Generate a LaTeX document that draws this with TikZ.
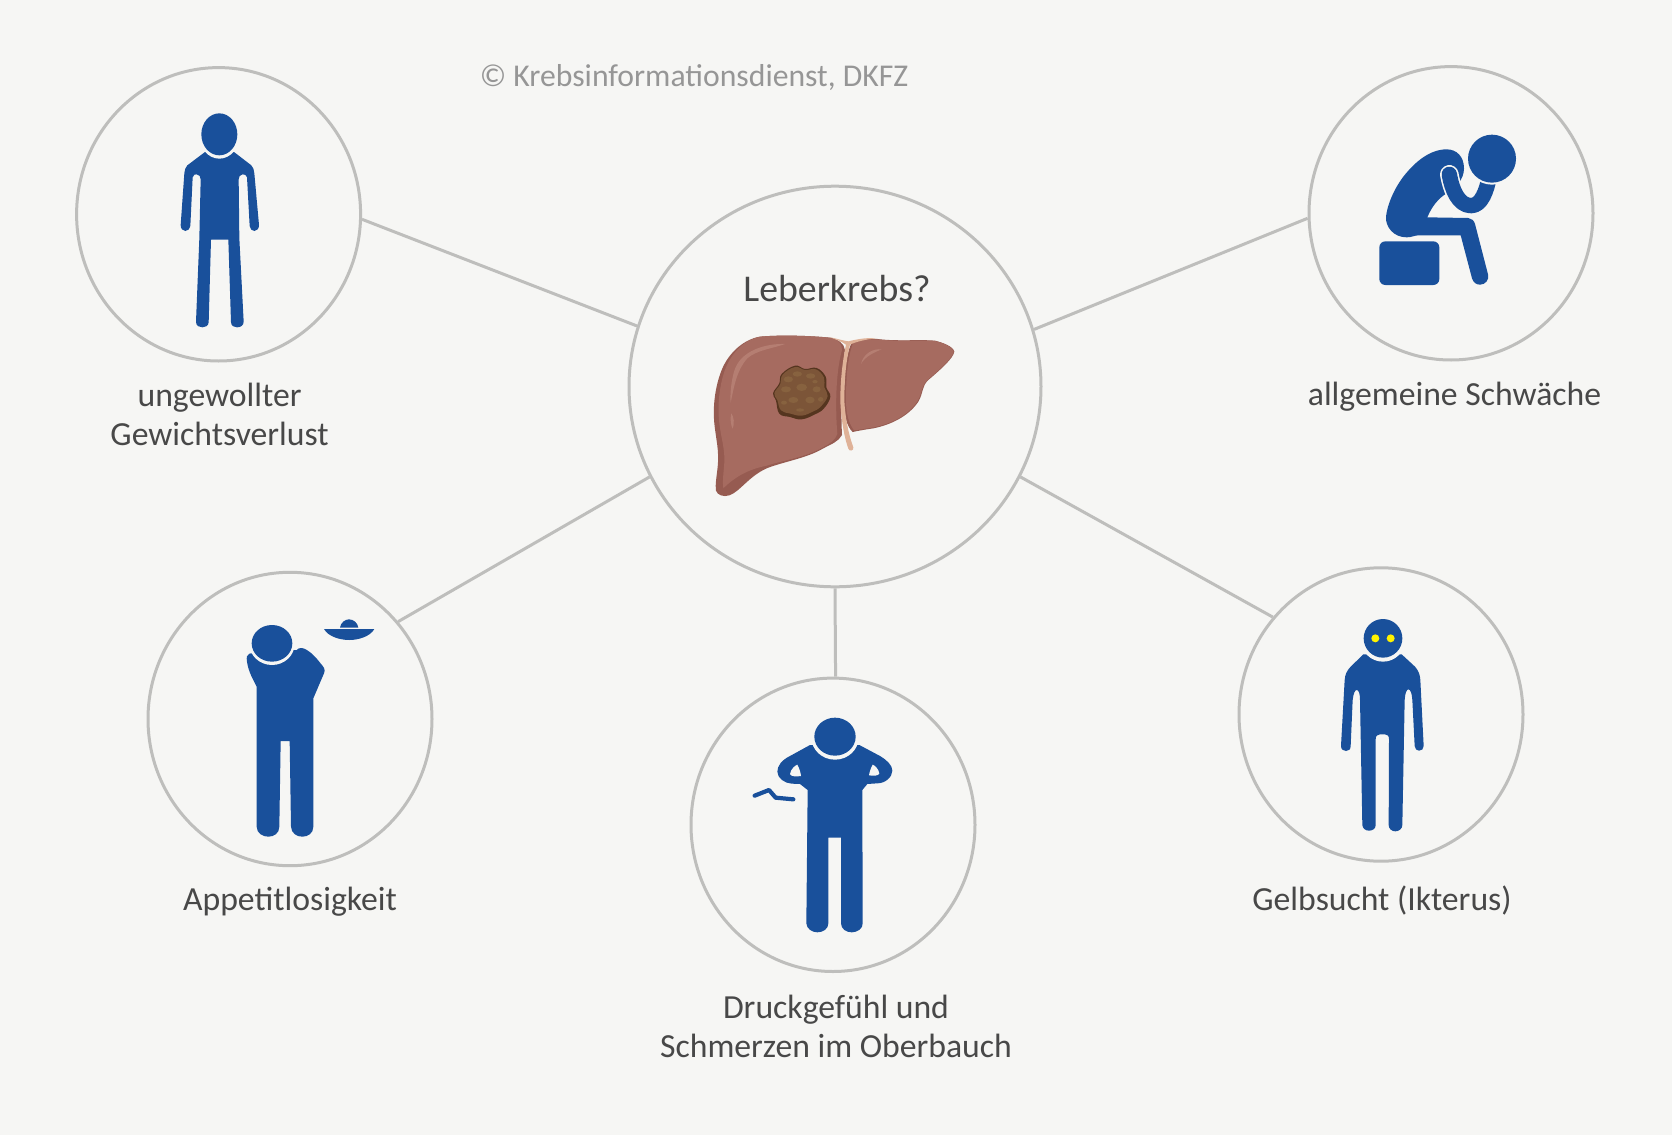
\documentclass[tikz,border=0pt]{standalone}
\usepackage{fontspec}
\usetikzlibrary{shapes.geometric}
\setmainfont{Carlito}
\definecolor{bgc}{HTML}{F6F6F4}
\definecolor{ringc}{HTML}{BEBEBC}
\definecolor{figc}{HTML}{19509B}
\definecolor{txtc}{HTML}{484848}
\definecolor{copyc}{HTML}{969696}
\definecolor{liverc}{HTML}{A66B60}
\definecolor{liverd}{HTML}{965B51}
\definecolor{liverl}{HTML}{B57E72}
\definecolor{tanc}{HTML}{DFB298}
\definecolor{tumc}{HTML}{7C5538}
\definecolor{tumd}{HTML}{55351F}
\definecolor{tuml}{HTML}{87623F}
\tikzset{
  ringnode/.style={ellipse,draw=ringc,line width=1.5pt,inner sep=0pt,minimum width=142pt,minimum height=146.7pt},
  mainnode/.style={ellipse,draw=ringc,line width=1.5pt,inner sep=0pt,minimum width=206pt,minimum height=200.3pt},
  link/.style={draw=ringc,line width=1.5pt},
  lab/.style={text=txtc,align=center,inner sep=0pt,font=\fontsize{16.85}{19.2}\selectfont},
  zoomed/.style n args={2}{shift={(#1,#2)},x=0.16667pt,y=-0.16667pt},
  fig/.style={fill=figc},
  gapc/.style={fill=bgc}
}
\begin{document}
\begin{tikzpicture}[x=0.5pt,y=-0.5pt]
\fill[bgc] (0,0) rectangle (1672,1135);
\useasboundingbox (0,0) rectangle (1672,1135);
% circles
\node[mainnode] (main) at (835,386.5) {};
\node[ringnode] (weight) at (218.6,214.3) {};
\node[ringnode] (weak) at (1451,213.3) {};
\node[ringnode] (appetite) at (290,719) {};
\node[ringnode] (pain) at (833,824.8) {};
\node[ringnode] (jaundice) at (1381,714.5) {};
% connectors
\draw[link] (weight.-2.6) -- (main.163);
\draw[link] (weak.182) -- (main.16.2);
\draw[link] (appetite.42.3) -- (main.206.2);
\draw[link] (jaundice.138.6) -- (main.-26.2);
\draw[link] (pain.89.3) -- (main.-90);
% texts
\node[text=copyc,inner sep=0pt,font=\fontsize{15.85}{18}\selectfont] (copy) at (694,77.5) {© Krebsinformationsdienst, DKFZ};
\node[text=txtc,inner sep=0pt,font=\fontsize{18.9}{21}\selectfont] (title) at (837,288.5) {Leberkrebs?};
\node[lab] (t1) at (219.6,414.5) {ungewollter\\Gewichtsverlust};
\node[lab] (t2) at (1454.5,397) {allgemeine Schwäche};
\node[lab] (t3) at (290,902) {Appetitlosigkeit};
\node[lab] (t4) at (1382,901) {Gelbsucht (Ikterus)};
\node[lab] (t5) at (836,1026.5) {Druckgefühl und\\Schmerzen im Oberbauch};
% liver
\begin{scope}[zoomed={660}{300}]
  % right lobe
  \fill[liverd] (575,128) .. controls (600,118) and (640,114) .. (660,118) .. controls (720,124) and (780,118) .. (825,122)
     .. controls (850,128) and (880,140) .. (883,155) .. controls (880,175) and (840,210) .. (805,240)
     .. controls (785,258) and (790,280) .. (775,305) .. controls (745,350) and (690,375) .. (640,385)
     .. controls (620,388) and (595,392) .. (578,396) .. controls (560,380) and (550,340) .. (552,300)
     .. controls (552,240) and (555,170) .. (575,128) -- cycle;
  \fill[liverc] (580,128) .. controls (600,119) and (640,116) .. (660,119) .. controls (720,125) and (780,120) .. (825,123)
     .. controls (850,129) and (878,141) .. (881,155) .. controls (878,173) and (839,209) .. (803,239)
     .. controls (783,257) and (787,280) .. (772,304) .. controls (743,348) and (690,372) .. (640,382)
     .. controls (620,385) and (600,389) .. (582,391) .. controls (566,370) and (558,340) .. (558,300)
     .. controls (558,240) and (562,170) .. (580,128) -- cycle;
  % left lobe
  \fill[liverd] (510,113) .. controls (440,106) and (350,105) .. (300,110) .. controls (250,118) and (205,160) .. (185,210)
     .. controls (165,260) and (158,320) .. (163,370) .. controls (168,420) and (178,450) .. (173,500)
     .. controls (170,530) and (165,555) .. (168,572) .. controls (172,585) and (190,592) .. (208,586)
     .. controls (240,575) and (265,530) .. (320,505) .. controls (370,485) and (440,475) .. (490,445)
     .. controls (515,432) and (535,425) .. (546,405) .. controls (542,330) and (545,220) .. (555,150)
     .. controls (552,130) and (535,118) .. (510,113) -- cycle;
  \fill[liverc] (510,113) .. controls (440,106) and (350,105) .. (300,110) .. controls (250,120) and (212,162) .. (194,212)
     .. controls (177,262) and (172,320) .. (178,370) .. controls (184,420) and (197,450) .. (192,500)
     .. controls (190,525) and (187,545) .. (190,565) .. controls (225,530) and (265,508) .. (320,497)
     .. controls (370,481) and (440,471) .. (490,441) .. controls (510,431) and (526,420) .. (532,402)
     .. controls (526,330) and (526,220) .. (546,150) .. controls (546,130) and (535,118) .. (510,113) -- cycle;
  % highlights
  \fill[liverl] (375,132) .. controls (320,130) and (240,150) .. (222,215) .. controls (212,250) and (210,290) .. (212,308)
     .. controls (222,260) and (230,210) .. (262,175) .. controls (290,150) and (340,145) .. (375,132) -- cycle;
  \fill[liverl] (214,340) .. controls (210,355) and (212,375) .. (218,386) .. controls (224,370) and (222,352) .. (214,340) -- cycle;
  \fill[liverl] (665,148) .. controls (640,145) and (610,160) .. (603,192) .. controls (615,170) and (640,158) .. (665,148) -- cycle;
  % ligament
  \fill[tanc] (508,111) .. controls (530,116) and (550,122) .. (565,124) .. controls (590,118) and (620,112) .. (648,115)
     .. controls (620,118) and (590,124) .. (570,134) .. controls (558,180) and (553,240) .. (553,300)
     .. controls (555,350) and (566,405) .. (580,442) .. controls (582,452) and (568,456) .. (565,446)
     .. controls (552,410) and (542,350) .. (541,300) .. controls (541,240) and (548,180) .. (558,134)
     .. controls (545,124) and (525,118) .. (508,111) -- cycle;
  % tumour
  \fill[tumd] plot[smooth cycle,tension=0.7] coordinates {(405,197) (435,207) (470,204) (497,230) (499,262) (511,290) (492,325) (465,343) (425,358) (390,351) (358,341) (348,302) (339,280) (358,250) (365,222)};
  \fill[tumc] plot[smooth cycle,tension=0.7] coordinates {(405,201) (435,210) (468,208) (492,233) (493,262) (503,288) (482,320) (458,335) (425,347) (392,341) (363,331) (352,300) (343,280) (361,252) (368,224)};
  \foreach \x/\y/\a/\b in {385/238/14/9, 412/222/14/8, 452/228/14/8, 378/268/15/9, 425/262/16/11, 470/268/12/9, 400/300/15/9, 450/300/14/10, 372/308/9/6, 482/298/8/7, 420/330/12/5, 465/245/8/5}{
    \fill[tuml] (\x,\y) ellipse [x radius=\a,y radius=\b];
  }
\end{scope}
% figure: weight loss
\begin{scope}[zoomed={150}{90}]
  \fill[fig] (165,186) -- (112,226) .. controls (106,232) and (104,240) .. (103,250) -- (92,405)
    .. controls (92,416) and (98,423) .. (106,423) .. controls (114,423) and (120,416) .. (121,408)
    -- (128,262) .. controls (130,254) and (136,252) .. (140,253) .. controls (148,254) and (152,260) .. (152,268)
    -- (148,445) -- (138,695) .. controls (138,708) and (148,712) .. (157,712) .. controls (166,712) and (175,708) .. (176,697)
    -- (183,449) -- (235,449) -- (243,697) .. controls (244,708) and (252,712) .. (261,712) .. controls (272,712) and (281,706) .. (281,695)
    -- (268,445) -- (266,268) .. controls (266,260) and (270,254) .. (278,253) .. controls (284,252) and (290,256) .. (291,262)
    -- (299,408) .. controls (300,416) and (305,423) .. (313,423) .. controls (321,423) and (327,416) .. (327,405)
    -- (313,250) .. controls (312,240) and (310,232) .. (304,226) -- (252,186) -- cycle;
  \fill[gapc] (208,134) ellipse [x radius=61,y radius=72];
  \fill[fig] (208,133) ellipse [x radius=54,y radius=63];
\end{scope}
% figure: weakness
\begin{scope}[zoomed={1340}{110}]
  \fill[figc,rounded corners=3pt] (118,394) rectangle (298,525);
  \fill[fig] (320,118) .. controls (270,118) and (225,155) .. (190,200) .. controls (160,240) and (142,285) .. (138,320)
    .. controls (136,350) and (160,382) .. (200,382) .. controls (215,382) and (225,376) .. (235,376) -- (362,376)
    -- (396,505) .. controls (400,518) and (410,524) .. (420,524) .. controls (436,524) and (448,510) .. (444,493)
    -- (405,342) .. controls (402,332) and (395,325) .. (385,324) -- (262,322)
    .. controls (275,290) and (295,265) .. (320,250) .. controls (345,235) and (372,210) .. (372,175)
    .. controls (372,140) and (350,118) .. (320,118) -- cycle;
  \draw[bgc,line width=9.3pt,line cap=round] (328,193) .. controls (336,240) and (352,268) .. (372,282);
  \draw[figc,line width=7.7pt,line cap=round,line join=round] (328,193) .. controls (336,240) and (355,285) .. (392,287) .. controls (425,288) and (440,240) .. (448,200);
  \fill[gapc] (456,146) circle [radius=78];
  \fill[fig] (456,146) circle [radius=72];
\end{scope}
% figure: appetite
\begin{scope}[zoomed={220}{600}]
  \fill[fig] (88,161) .. controls (80,164) and (79,172) .. (81,185) .. controls (85,215) and (100,240) .. (110,260)
    -- (110,680) .. controls (110,700) and (128,710) .. (145,710) .. controls (162,710) and (178,700) .. (178,680)
    -- (182,423) -- (209,423) -- (213,680) .. controls (214,700) and (230,710) .. (247,710) .. controls (264,710) and (280,700) .. (280,680)
    -- (280,295) -- (312,220) .. controls (318,208) and (310,200) .. (300,188) .. controls (285,168) and (262,146) .. (245,144)
    .. controls (238,143) and (234,146) .. (230,150) -- (160,150) -- cycle;
  \fill[gapc] (156,131) ellipse [x radius=68,y radius=64];
  \fill[fig] (156,130) ellipse [x radius=61,y radius=55];
  \fill[fig] (312,87) -- (463,87) .. controls (450,110) and (415,120) .. (388,120) .. controls (360,120) and (325,110) .. (312,87) -- cycle;
  \fill[fig] (360,83) .. controls (362,68) and (375,58) .. (387,58) .. controls (400,58) and (413,68) .. (415,83) -- cycle;
\end{scope}
% figure: pain
\begin{scope}[zoomed={740}{700}]
  \fill[fig] (210,135) -- (150,168) .. controls (125,180) and (112,198) .. (112,215) .. controls (112,235) and (135,250) .. (155,251)
    -- (180,252) -- (203,270) -- (199,670) .. controls (200,686) and (216,697) .. (232,697) .. controls (250,697) and (265,686) .. (265,670)
    -- (265,413) -- (303,413) -- (303,670) .. controls (303,686) and (318,697) .. (335,697) .. controls (352,697) and (369,686) .. (368,670)
    -- (367,270) -- (382,252) -- (412,250) .. controls (435,250) and (457,232) .. (457,212) .. controls (457,195) and (440,180) .. (420,168)
    -- (358,135) -- cycle;
  \fill[gapc] (285,112) ellipse [x radius=71,y radius=67];
  \fill[fig] (285,110) ellipse [x radius=62,y radius=57];
  \fill[gapc] (150,222) .. controls (152,208) and (165,196) .. (172,194) .. controls (178,205) and (182,218) .. (183,228) .. controls (170,230) and (152,230) .. (150,222) -- cycle;
  \fill[gapc] (418,220) .. controls (416,208) and (405,196) .. (398,194) .. controls (392,205) and (388,218) .. (387,226) .. controls (400,228) and (416,228) .. (418,220) -- cycle;
  \draw[figc,line width=2.1pt,line cap=round,line join=round] (44,287) -- (87,270) -- (107,293) -- (160,298);
\end{scope}
% figure: jaundice
\begin{scope}[zoomed={1320}{600}]
  \fill[fig] (130,163) -- (92,200) .. controls (80,212) and (75,225) .. (74,240) -- (63,438) .. controls (63,448) and (70,453) .. (78,453) .. controls (86,453) and (92,448) .. (92,438)
    -- (98,300) .. controls (100,280) and (105,270) .. (110,270) .. controls (116,270) and (120,280) .. (120,300)
    -- (127,675) .. controls (128,686) and (137,692) .. (147,692) .. controls (158,692) and (167,686) .. (167,675)
    -- (167,418) .. controls (167,408) and (172,403) .. (180,403) -- (195,403) .. controls (203,403) and (207,408) .. (207,418)
    -- (206,675) .. controls (206,686) and (215,694) .. (226,694) .. controls (237,694) and (247,686) .. (247,675)
    -- (254,300) .. controls (255,280) and (260,268) .. (265,268) .. controls (271,268) and (276,280) .. (277,300)
    -- (284,438) .. controls (285,447) and (290,452) .. (297,452) .. controls (305,452) and (311,447) .. (311,438)
    -- (301,240) .. controls (300,225) and (296,212) .. (285,200) -- (245,163) -- cycle;
  \fill[gapc] (189,118) circle [radius=67];
  \fill[fig] (189,115) circle [radius=58];
  \fill[yellow] (166,115) circle [radius=12];
  \fill[yellow] (212,115) circle [radius=12];
\end{scope}
\end{tikzpicture}
\end{document}
